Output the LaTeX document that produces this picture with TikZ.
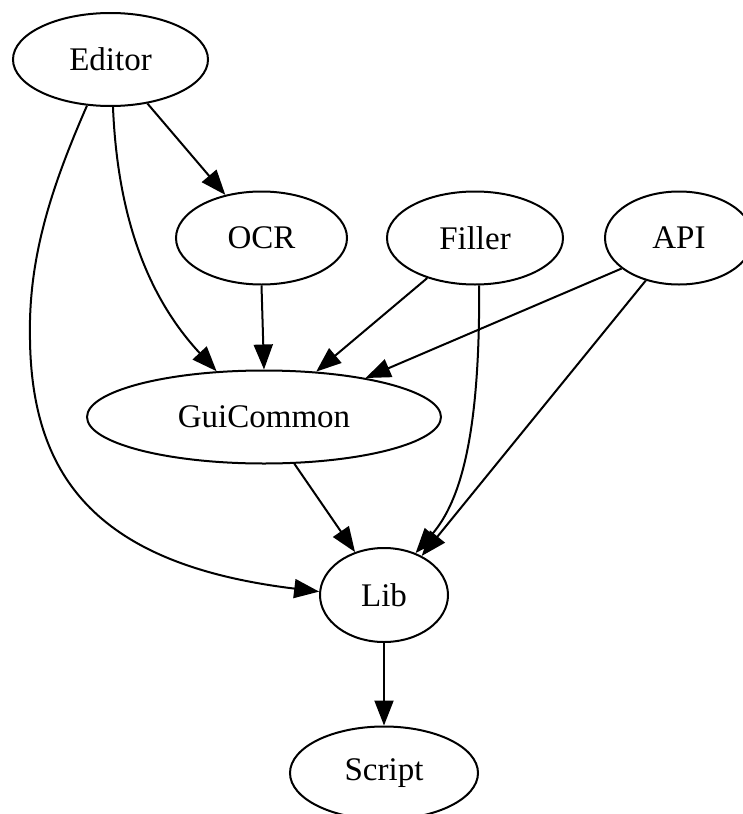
\documentclass[tikz,border=0pt]{standalone}
\usepackage{fontspec}
\setmainfont{Liberation Serif}
\usetikzlibrary{shapes.geometric,arrows.meta}
\begin{document}
\begin{tikzpicture}[x=1pt,y=-1pt,
  gnode/.style={ellipse,draw,line width=2pt,inner sep=0pt,minimum height=93pt,
    font=\fontsize{33}{40}\selectfont},
  conn/.style={line width=2pt,-{Triangle[length=25pt,width=19pt]}}]
\useasboundingbox (0,0) rectangle (743,814);
\clip (0,0) rectangle (743,814);
\node[gnode,minimum width=195pt] (ed) at (110.5,59.5) {Editor};
\node[gnode,minimum width=171pt] (ocr) at (261.5,238) {OCR};
\node[gnode,minimum width=176pt] (fil) at (475,238) {Filler};
\node[gnode,minimum width=148pt] (api) at (679,238) {API};
\node[gnode,minimum width=354pt] (gui) at (264,417) {GuiCommon};
\node[gnode,minimum width=128pt,minimum height=94pt] (lib) at (384,595) {Lib};
\node[gnode,minimum width=188pt] (scr) at (384,773) {Script};
% edges
\draw[conn] (ed.-50) -- (ocr.130);
\draw[conn] (ed.-87) .. controls (118,230) and (155,305) .. (gui.136);
\draw[line width=2pt] (ed.-117) .. controls (50,190) and (28,260) .. (30,340) coordinate (bend);
\draw[conn] (bend) .. controls (32,480) and (100,565) .. (lib.177);
\draw[conn] (ocr.south) -- (gui.north);
\draw[conn] (fil.-140) -- (gui.41);
\draw[conn] (api.-152) -- (gui.21);
\draw[conn] (fil.-85) .. controls (480,430) and (462,500) .. (lib.53);
\draw[conn] (api.-128) -- (lib.46);
\draw[conn] (gui.-57) -- (lib.124);
\draw[conn] (lib.south) -- (scr.north);
\end{tikzpicture}
\end{document}
